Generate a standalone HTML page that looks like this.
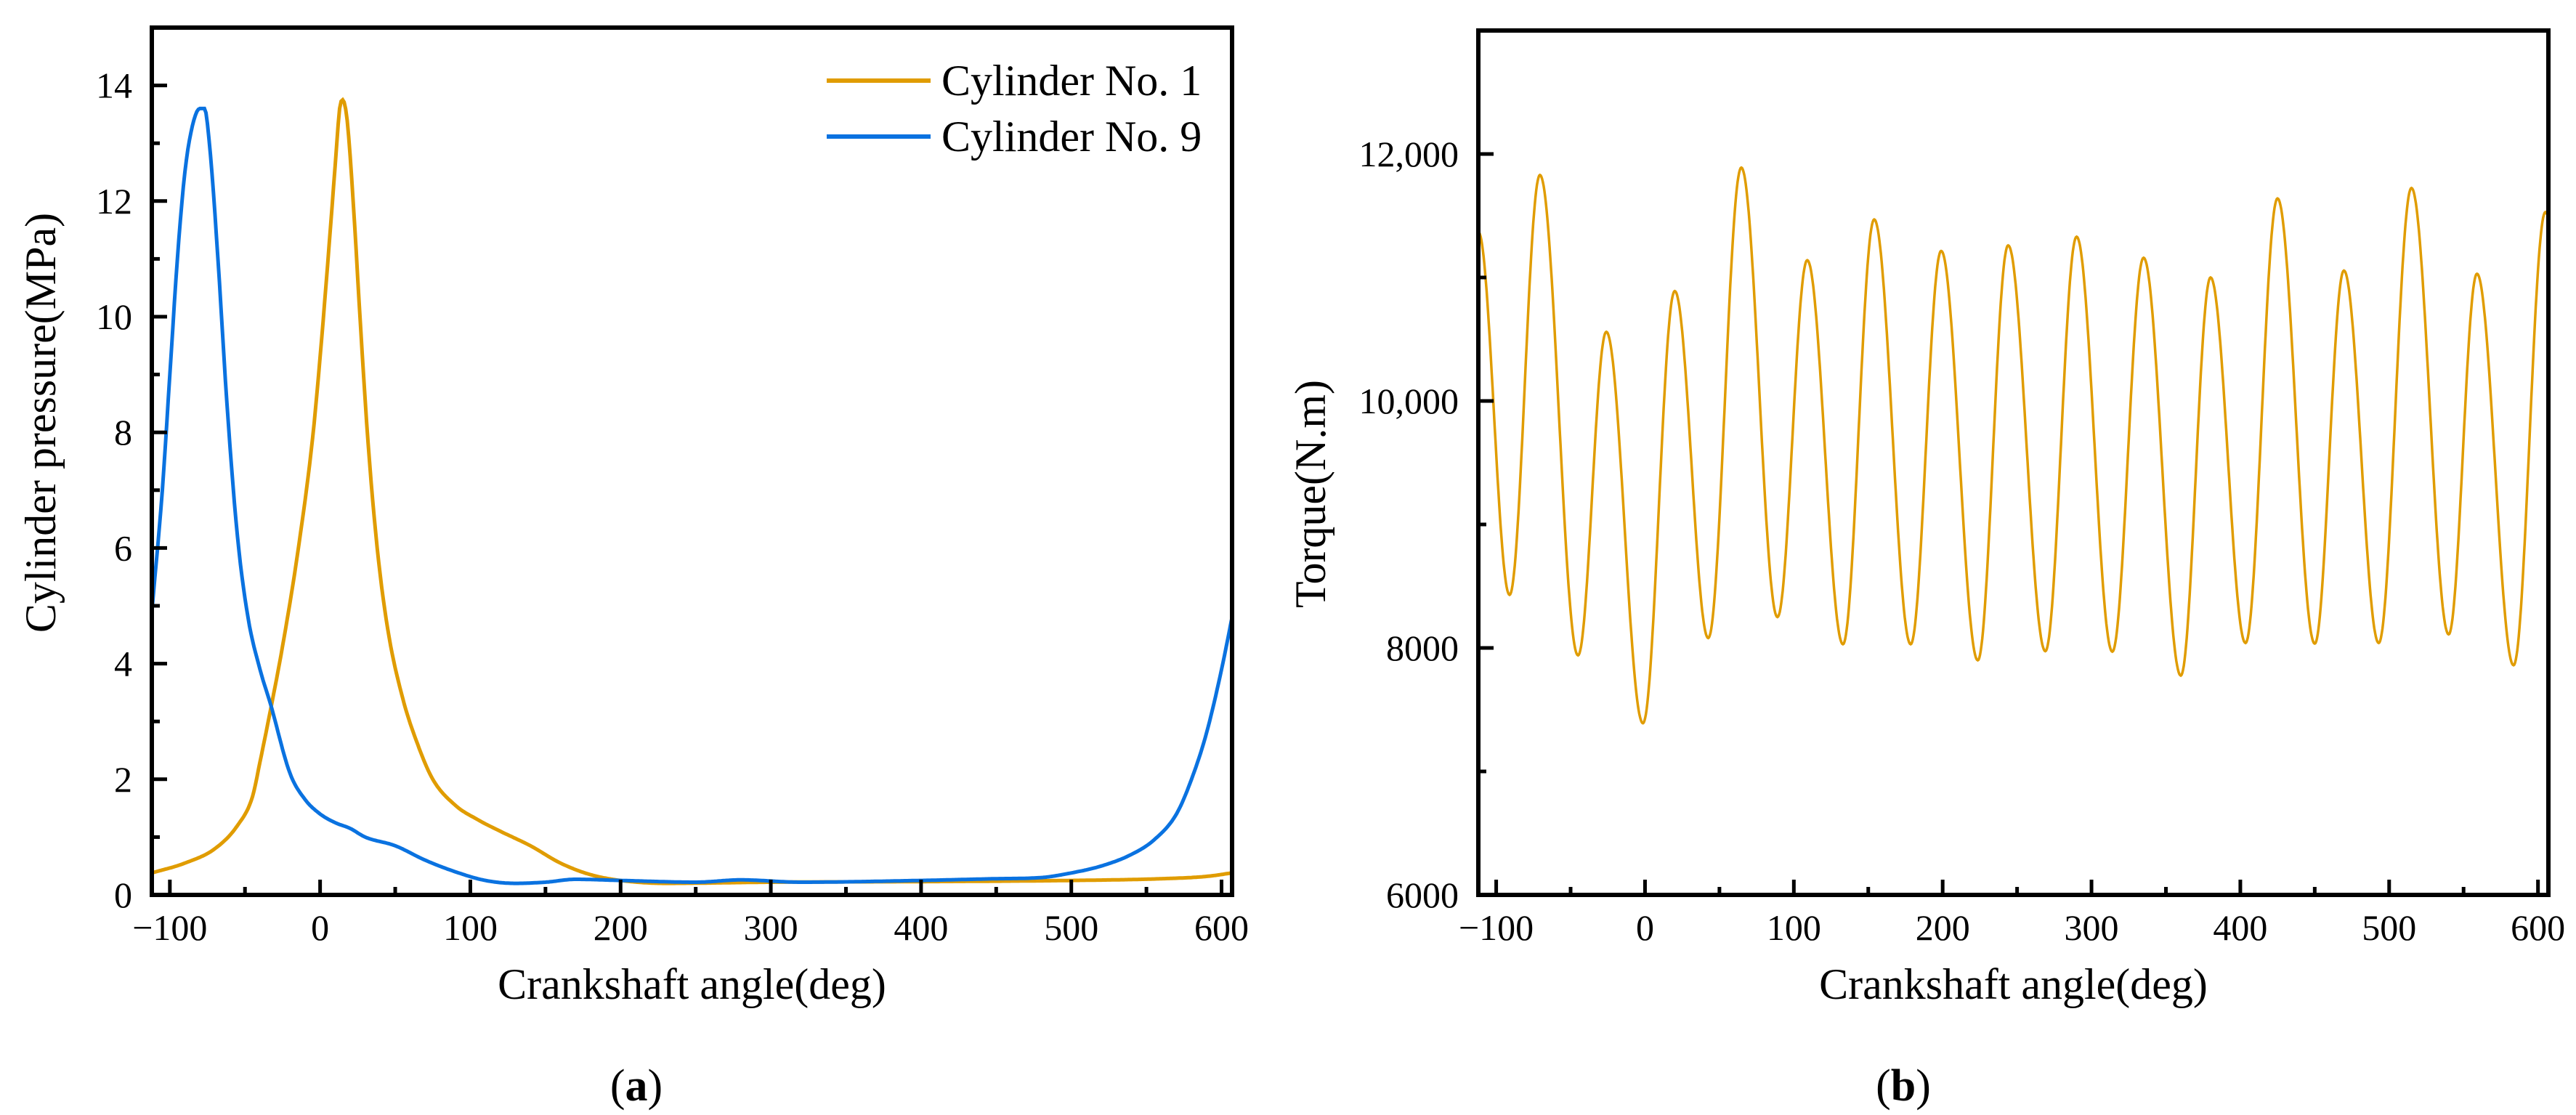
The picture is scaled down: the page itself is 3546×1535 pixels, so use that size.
<!DOCTYPE html>
<html><head><meta charset="utf-8"><style>
html,body{margin:0;padding:0;background:#fff;}
svg{display:block;font-family:"Liberation Serif",serif;}
</style></head><body>
<svg id="fig" width="3546" height="1535" viewBox="0 0 3546 1535" xmlns="http://www.w3.org/2000/svg">
<g id="pa"></g>
<g id="pb"></g>
</svg>
<script>
// ---------- Panel (a) data ----------
const cyl1Angles = [-112,-90,-70,-55,-45,-40,-33,-25,-15,-5,0,5,10,13,15,18,22,27,32,38,45,55,65,75,90,105,120,140,160,180,200,230,300,400,500,560,590,607];
const cyl1Pressure = [0.38,0.55,0.8,1.2,1.7,2.3,3.2,4.3,5.9,7.9,9.3,10.9,12.6,13.6,13.75,13.4,12.0,9.8,7.8,6.0,4.6,3.4,2.6,2.0,1.55,1.3,1.1,0.85,0.55,0.35,0.25,0.2,0.22,0.23,0.25,0.28,0.32,0.38];
const cyl9Angles = [-112,-105,-100,-95,-90,-85,-80,-77,-73,-68,-62,-55,-48,-40,-33,-20,-10,0,10,20,30,50,70,90,110,130,150,170,200,250,280,320,400,450,480,500,520,540,555,570,580,590,600,607];
const cyl9Pressure = [4.9,7.0,9.0,11.0,12.5,13.3,13.6,13.6,12.8,11.0,8.5,6.2,4.8,3.9,3.3,2.1,1.65,1.4,1.25,1.15,1.0,0.85,0.6,0.4,0.25,0.2,0.22,0.27,0.25,0.22,0.26,0.22,0.25,0.28,0.3,0.38,0.5,0.7,0.95,1.4,2.0,2.8,3.9,4.8];
const aXTicks = [-100,0,100,200,300,400,500,600];
const aXMinor = [-50,50,150,250,350,450,550];
const aYTicks = [0,2,4,6,8,10,12,14];
const aYMinor = [1,3,5,7,9,11,13];
const legendLabels = ["Cylinder No. 1","Cylinder No. 9"];
// ---------- Panel (b) data (extrema of the torque curve) ----------
const torqueAngles = [-112,-91,-70.6,-45,-26,-1.4,20,42.5,64.7,89,109,133,154,178.5,199,223.6,244,269,290,314,335,360,380,403.5,425,450,469.6,493,515,540,559,583.6,605,607];
const torqueValues = [11370,8430,11830,7940,10560,7390,10890,8080,11890,8250,11140,8030,11470,8030,11215,7900,11260,7974,11330,7970,11160,7776,11000,8040,11640,8035,11056,8040,11725,8110,11030,7860,11530,11500];
const bXTicks = [-100,0,100,200,300,400,500,600];
const bXMinor = [-50,50,150,250,350,450,550];
const bYTicks = [6000,8000,10000,12000];
const bYTickLabels = ["6000","8000","10,000","12,000"];
const bYMinor = [7000,9000,11000];

const NS="http://www.w3.org/2000/svg";
function mk(parent,tag,attrs,text){const e=document.createElementNS(NS,tag);for(const k in attrs)e.setAttribute(k,attrs[k]);if(text!==undefined)e.textContent=text;parent.appendChild(e);return e;}
function lin(d0,d1,r0,r1){return v=>r0+(v-d0)/(d1-d0)*(r1-r0);}

function monotone(xs,ys,step){
  const n=xs.length,d=[],m=new Array(n);
  for(let i=0;i<n-1;i++)d.push((ys[i+1]-ys[i])/(xs[i+1]-xs[i]));
  m[0]=d[0];m[n-1]=d[n-2];
  for(let i=1;i<n-1;i++){m[i]=(d[i-1]*d[i]<=0)?0:(d[i-1]+d[i])/2;}
  for(let i=0;i<n-1;i++){if(d[i]===0){m[i]=0;m[i+1]=0;continue;}const a=m[i]/d[i],b=m[i+1]/d[i],s=a*a+b*b;if(s>9){const t=3/Math.sqrt(s);m[i]=t*a*d[i];m[i+1]=t*b*d[i];}}
  const out=[];
  for(let i=0;i<n-1;i++){const h=xs[i+1]-xs[i];const k=Math.max(2,Math.ceil(h/step));
    for(let j=0;j<k;j++){const t=j/k,t2=t*t,t3=t2*t;
      const y=(2*t3-3*t2+1)*ys[i]+(t3-2*t2+t)*h*m[i]+(-2*t3+3*t2)*ys[i+1]+(t3-t2)*h*m[i+1];
      out.push([xs[i]+t*h,y]);}}
  out.push([xs[n-1],ys[n-1]]);return out;}
function cosInterp(xs,ys,step){
  const out=[];
  for(let i=0;i<xs.length-1;i++){const h=xs[i+1]-xs[i];const k=Math.max(2,Math.ceil(h/step));
    for(let j=0;j<k;j++){const t=j/k;const w=(1-Math.cos(Math.PI*t))/2;out.push([xs[i]+t*h,ys[i]+(ys[i+1]-ys[i])*w]);}}
  out.push([xs[xs.length-1],ys[ys.length-1]]);return out;}

function drawAxes(g,box,sx,sy,xt,xm,yt,ym,ylabels){
  const {l,r,t,b}=box;
  xt.forEach(v=>{const x=sx(v);
    const tk=mk(g,'line',{x1:x,x2:x,y1:b,y2:b-21,stroke:'#000','stroke-width':5});
    
    
    const lb=mk(g,'text',{x:x,y:1294,'font-size':50,'text-anchor':'middle'},v<0?'\u2212'+(-v):String(v));
    
    });
  xm.forEach(v=>{const x=sx(v);
    const tk=mk(g,'line',{x1:x,x2:x,y1:b,y2:b-11,stroke:'#000','stroke-width':5});
    
    });
  yt.forEach((v,i)=>{const y=sy(v);
    const tk=mk(g,'line',{x1:l,x2:l+21,y1:y,y2:y,stroke:'#000','stroke-width':5});
    
    
    const lb=mk(g,'text',{x:l-27,y:y+17,'font-size':50,'text-anchor':'end'},ylabels?ylabels[i]:String(v));
    
    });
  ym.forEach(v=>{const y=sy(v);
    const tk=mk(g,'line',{x1:l,x2:l+11,y1:y,y2:y,stroke:'#000','stroke-width':5});
    
    });
  const fr=mk(g,'rect',{x:l,y:t,width:r-l,height:b-t,fill:'none',stroke:'#000','stroke-width':6});
  
  
}
function pathOf(pts,sx,sy){return pts.map((p,i)=>(i?'L':'M')+sx(p[0]).toFixed(1)+','+sy(p[1]).toFixed(1)).join('');}

// ---------- Panel (a) ----------
(function(){
  const g=document.getElementById('pa');
  const box={l:209,r:1696,t:38,b:1232};
  const sx=lin(-112,607,box.l,box.r), sy=lin(0,15,box.b,box.t);
  const clip=mk(g,'clipPath',{id:'ca'});mk(clip,'rect',{x:box.l,y:box.t,width:box.r-box.l,height:box.b-box.t});
  const p1=mk(g,'path',{d:pathOf(monotone(cyl1Angles,cyl1Pressure,1),sx,sy),fill:'none',stroke:'#E09C00','stroke-width':5,'clip-path':'url(#ca)'});
  
  
  const p9=mk(g,'path',{d:pathOf(monotone(cyl9Angles,cyl9Pressure,1),sx,sy),fill:'none',stroke:'#0A72E0','stroke-width':5,'clip-path':'url(#ca)'});
  
  
  drawAxes(g,box,sx,sy,aXTicks,aXMinor,aYTicks,aYMinor,null);
  const colors=['#E09C00','#0A72E0'],ly=[111,188];
  legendLabels.forEach((s,i)=>{
    const ln=mk(g,'line',{x1:1138,x2:1281,y1:ly[i],y2:ly[i],stroke:colors[i],'stroke-width':6});
    
    
    const tx=mk(g,'text',{x:1296,y:ly[i]+20,'font-size':60},s);
    
    });
  const xt=mk(g,'text',{x:(box.l+box.r)/2,y:1375,'font-size':60,'text-anchor':'middle'},'Crankshaft angle(deg)');
  
  
  const yt=mk(g,'text',{x:0,y:0,'font-size':60,'text-anchor':'middle',transform:'translate(76,582) rotate(-90)'},'Cylinder pressure(MPa)');
  
  
  const cap=mk(g,'text',{x:876,y:1515,'font-size':62,'text-anchor':'middle'});
  
  
  cap.innerHTML='(<tspan font-weight="bold">a</tspan>)';
})();

// ---------- Panel (b) ----------
(function(){
  const g=document.getElementById('pb');
  const box={l:2035,r:3508,t:42,b:1232};
  const sx=lin(-112,607,box.l,box.r), sy=lin(6000,13000,box.b,box.t);
  const clip=mk(g,'clipPath',{id:'cb'});mk(clip,'rect',{x:box.l,y:box.t,width:box.r-box.l,height:box.b-box.t});
  const p=mk(g,'path',{d:pathOf(cosInterp(torqueAngles,torqueValues,0.5),sx,sy),fill:'none',stroke:'#E09C00','stroke-width':3.5,'clip-path':'url(#cb)'});
  
  
  drawAxes(g,box,sx,sy,bXTicks,bXMinor,bYTicks,bYMinor,bYTickLabels);
  const xt=mk(g,'text',{x:(box.l+box.r)/2,y:1375,'font-size':60,'text-anchor':'middle'},'Crankshaft angle(deg)');
  
  
  const yt=mk(g,'text',{x:0,y:0,'font-size':60,'text-anchor':'middle',transform:'translate(1824,680) rotate(-90)'},'Torque(N.m)');
  
  
  const cap=mk(g,'text',{x:2620,y:1515,'font-size':62,'text-anchor':'middle'});
  
  
  cap.innerHTML='(<tspan font-weight="bold">b</tspan>)';
})();
</script>
</body></html>
